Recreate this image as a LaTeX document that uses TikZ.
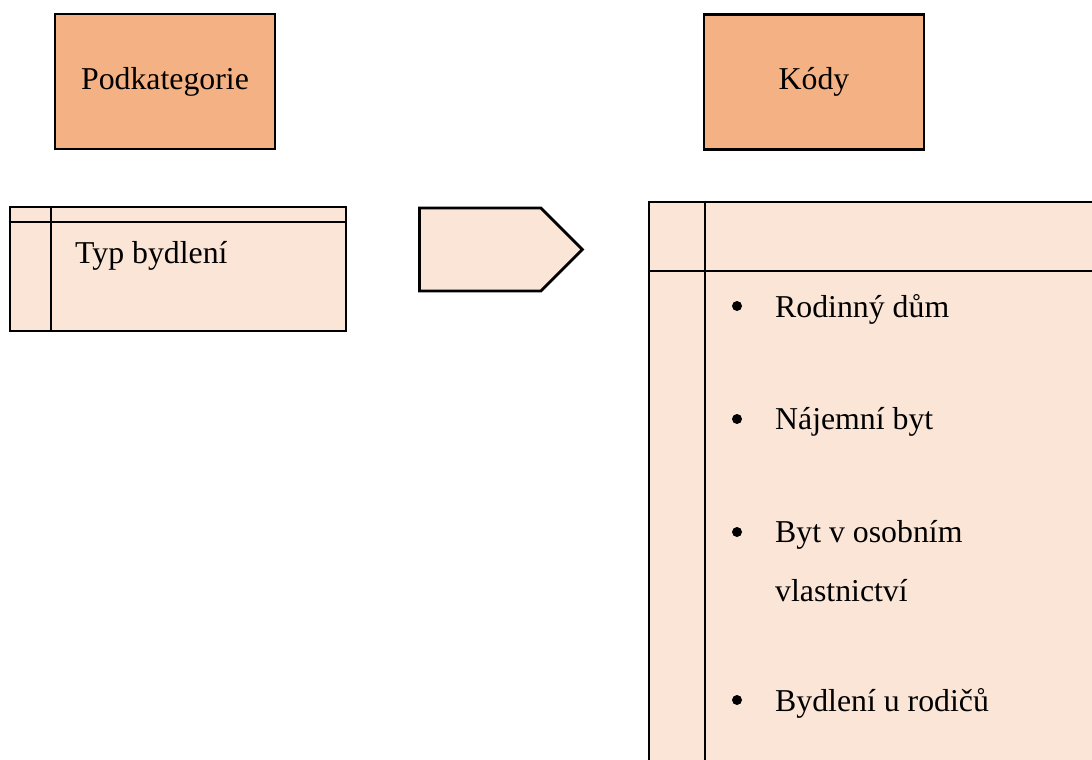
\documentclass[tikz,border=0pt]{standalone}
\usepackage{fontspec}
\setmainfont{Liberation Serif}
\usetikzlibrary{shapes.symbols}
\definecolor{headorange}{HTML}{F4B183}
\definecolor{lightpeach}{HTML}{FBE5D6}

\begin{document}
\begin{tikzpicture}[x=1pt,y=-1pt,
    every node/.style={font=\fontsize{31.8}{56}\selectfont},
    headbox/.style={draw,line width=2.8pt,fill=headorange,minimum width=220pt,minimum height=135pt},
    tablebox/.style={draw,line width=2.8pt,fill=lightpeach,inner sep=0pt},
    rule/.style={line width=2.8pt},
    item/.style={anchor=west,inner sep=0pt}]
        \useasboundingbox (0,0) rectangle (1092,760);
        \clip (0,0) rectangle (1092,760);

        \node[headbox] (Hsub) at (165,81.5) {Podkategorie};
        \node[headbox] (Hcode) at (814,82) {Kódy};

        % left table
        \node[tablebox,minimum width=336pt,minimum height=124pt] (Tsub) at (178,269) {};
        \draw[rule] (Tsub.west |- 0,222) -- (Tsub.east |- 0,222);
        \draw[rule] (51,0 |- Tsub.north) -- (51,0 |- Tsub.south);
        \node[item] (Ltyp) at (75,256) {Typ bydlení};

        % arrow
        \node[signal,signal to=east,signal pointer angle=90,draw,line width=2.8pt,
              fill=lightpeach,minimum width=163pt,minimum height=83pt,inner sep=0pt,
              anchor=west] (Arr) at (418,249.5) {};

        % right table
        \node[tablebox,minimum width=451pt,minimum height=568pt] (Tcode) at (874.5,486) {};
        \draw[rule] (Tcode.west |- 0,271) -- (Tcode.east |- 0,271);
        \draw[rule] (705,0 |- Tcode.north) -- (705,0 |- Tcode.south);

        \foreach \y/\txt [count=\i] in {309/Rodinný dům,422/Nájemní byt,535/Byt v osobním,703/Bydlení u rodičů}{
            \fill (737,\y-3) circle (5pt);
            \node[item] (K\i) at (775,\y) {\txt};
        }
        \node[item] (K3b) at (775,591) {vlastnictví};

    \end{tikzpicture}
\end{document}
